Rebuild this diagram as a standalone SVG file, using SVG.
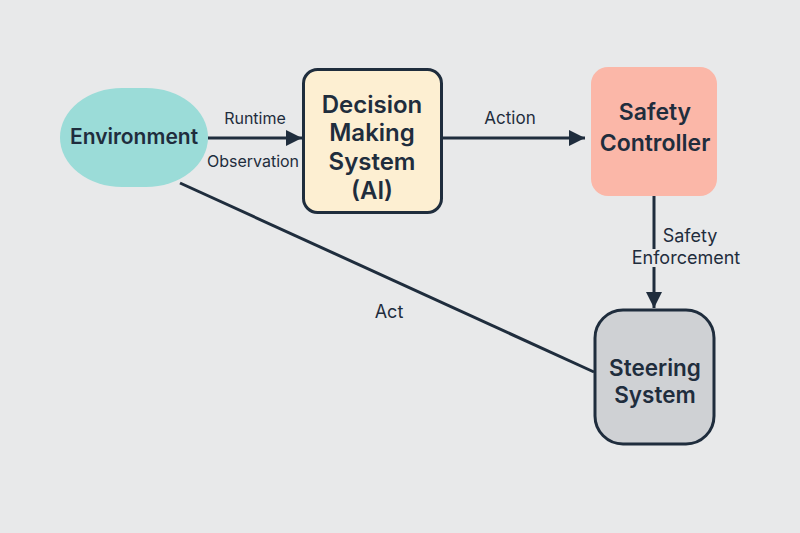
<svg xmlns="http://www.w3.org/2000/svg" width="800" height="533" viewBox="0 0 800 533">
<defs>
<marker id="ah" viewBox="0 0 10 10" refX="10" refY="5" markerWidth="16" markerHeight="16" markerUnits="userSpaceOnUse" orient="auto">
<path d="M0,0 L10,5 L0,10 Z" fill="#1f2d3d"/>
</marker>
<style>
.node{font-family:Inter,"Liberation Sans",sans-serif;font-weight:600;font-size:21px;fill:#1f2d3d;text-anchor:middle}
.lbl{font-family:Inter,"Liberation Sans",sans-serif;font-weight:400;font-size:16px;fill:#1f2d3d;text-anchor:middle}
.edge{stroke:#1f2d3d;stroke-width:3;fill:none}
</style>
</defs>
<rect width="800" height="533" fill="#e8e9ea"/>
<g id="connectors">
<line class="edge" x1="208" y1="138" x2="302" y2="138" marker-end="url(#ah)"/>
<line class="edge" x1="443" y1="138" x2="585" y2="138" marker-end="url(#ah)"/>
<line class="edge" x1="654" y1="196" x2="654" y2="308" marker-end="url(#ah)"/>
<line class="edge" x1="180" y1="183" x2="594" y2="372"/>
<text class="lbl" x="255" y="124">Runtime</text>
<text class="lbl" x="253" y="167">Observation</text>
<text class="lbl" x="510" y="124" style="font-size:17px">Action</text>
<text class="lbl" x="690" y="242" style="font-size:18px">Safety</text>
<rect x="629" y="249" width="114" height="18" fill="#e8e9ea"/>
<text class="lbl" x="686" y="264" style="font-size:18px">Enforcement</text>
<text class="lbl" x="389" y="318" style="font-size:18px">Act</text>
</g>
<g id="environment">
<rect x="60" y="88" width="148" height="99" rx="62" ry="49.5" fill="#9bdcd8"/>
<text class="node" x="134" y="144">Environment</text>
</g>
<g id="decision">
<rect x="303.5" y="69.5" width="138" height="143" rx="14" fill="#fdefd2" stroke="#1f2d3d" stroke-width="3"/>
<text class="node" x="372" y="113" style="font-size:24px">Decision</text>
<text class="node" x="372" y="141" style="font-size:24px">Making</text>
<text class="node" x="372" y="170" style="font-size:24px">System</text>
<text class="node" x="372" y="199" style="font-size:24px">(AI)</text>
</g>
<g id="safety">
<rect x="591" y="67" width="126" height="129" rx="17" fill="#fbb7a8"/>
<text class="node" x="655" y="120" style="font-size:23px">Safety</text>
<text class="node" x="655" y="151" style="font-size:23px">Controller</text>
</g>
<g id="steering">
<rect x="595" y="310" width="119" height="134" rx="28" fill="#cfd1d4" stroke="#1f2d3d" stroke-width="3"/>
<text class="node" x="655" y="376" style="font-size:22.5px">Steering</text>
<text class="node" x="655" y="403" style="font-size:22.5px">System</text>
</g>
</svg>
